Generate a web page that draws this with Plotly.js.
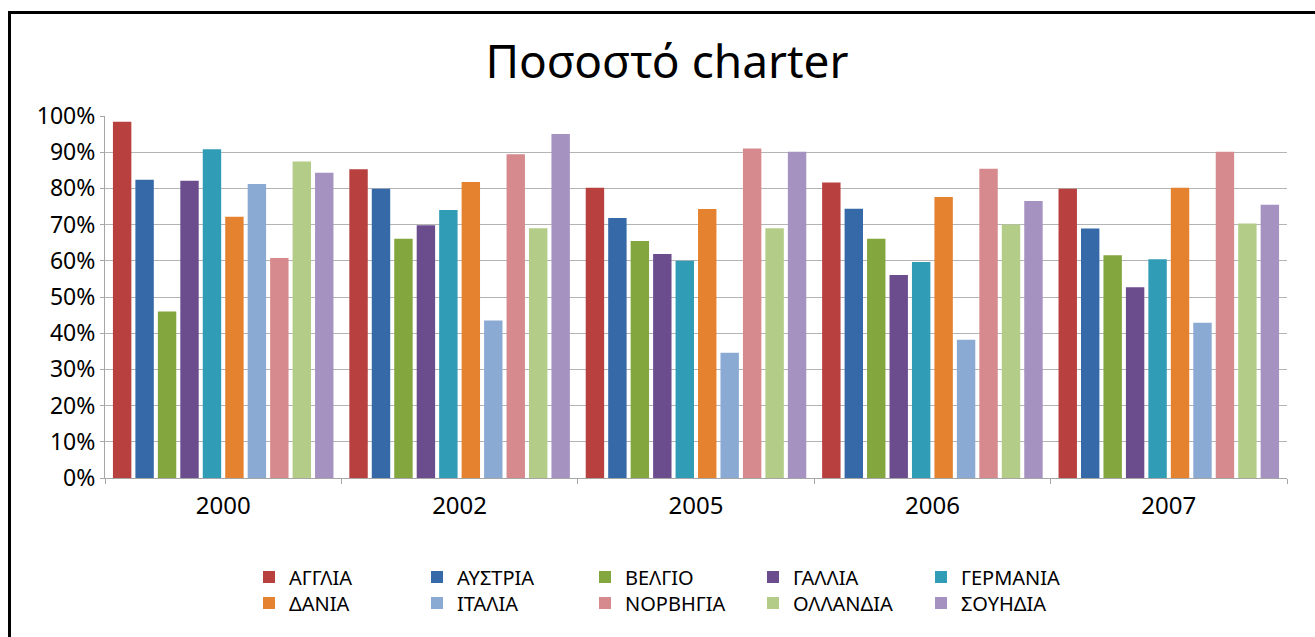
<!DOCTYPE html>
<html>
<head>
<meta charset="utf-8">
<script src="https://cdn.plot.ly/plotly-3.0.1.min.js"></script>
<style>
  html, body { margin: 0; padding: 0; background: #fff; overflow: hidden; }
  #chart { position: absolute; left: 0; top: 0; width: 1315px; height: 637px; }
  #frame { position: absolute; left: 8px; top: 11px; width: 1400px; height: 700px;
           border-top: 3px solid #000; border-left: 3px solid #000; pointer-events: none; }
</style>
</head>
<body>
<div id="chart"></div>
<div id="frame"></div>
<script>
const years = ['2000', '2002', '2005', '2006', '2007'];

const countries = ['ΑΓΓΛΙΑ', 'ΑΥΣΤΡΙΑ', 'ΒΕΛΓΙΟ', 'ΓΑΛΛΙΑ', 'ΓΕΡΜΑΝΙΑ',
                   'ΔΑΝΙΑ', 'ΙΤΑΛΙΑ', 'ΝΟΡΒΗΓΙΑ', 'ΟΛΛΑΝΔΙΑ', 'ΣΟΥΗΔΙΑ'];

// Charter share per country, in year order 2000, 2002, 2005, 2006, 2007
const anglia     = [0.984, 0.853, 0.802, 0.816, 0.799];
const afstria    = [0.824, 0.799, 0.718, 0.744, 0.689];
const velgio     = [0.460, 0.661, 0.655, 0.661, 0.615];
const gallia     = [0.821, 0.698, 0.619, 0.561, 0.527];
const germania   = [0.908, 0.740, 0.600, 0.597, 0.604];
const dania      = [0.722, 0.818, 0.743, 0.776, 0.802];
const italia     = [0.812, 0.435, 0.346, 0.382, 0.429];
const norvigia   = [0.608, 0.894, 0.910, 0.854, 0.901];
const ollandia   = [0.874, 0.690, 0.690, 0.700, 0.703];
const souidia    = [0.843, 0.950, 0.901, 0.765, 0.755];

const series = [anglia, afstria, velgio, gallia, germania,
                dania, italia, norvigia, ollandia, souidia];

const colors = ['#B8403E', '#3569A8', '#83A63F', '#6B4D8E', '#319CB5',
                '#E5822F', '#8BAAD3', '#D68A8D', '#B3CC88', '#A592C0'];

const FONT = 'Noto Sans, Open Sans, DejaVu Sans, sans-serif';

const traces = series.map((vals, i) => ({
  type: 'bar',
  name: countries[i],
  x: years,
  y: vals,
  marker: { color: colors[i], line: { width: 0 } },
  legend: i < 5 ? 'legend' : 'legend2',
  hoverinfo: 'x+y+name'
}));

const legendCommon = {
  orientation: 'h',
  xref: 'container', yref: 'container',
  xanchor: 'left', yanchor: 'middle',
  font: { family: FONT, size: 20, color: '#000' },
  entrywidth: 123,
  entrywidthmode: 'pixels',
  bgcolor: 'rgba(0,0,0,0)',
  borderwidth: 0,
  traceorder: 'normal',
  itemclick: false, itemdoubleclick: false
};

const layout = {
  width: 1315, height: 637,
  paper_bgcolor: '#ffffff',
  plot_bgcolor: '#ffffff',
  margin: { l: 105, r: 28, t: 116, b: 159 },
  font: { family: FONT, color: '#000' },
  title: {
    text: 'Ποσοστό charter',
    font: { family: FONT, size: 46, color: '#000' },
    xref: 'container', yref: 'container',
    x: 0.5072, xanchor: 'center',
    y: 1 - 62 / 637, yanchor: 'middle'
  },
  barmode: 'group',
  bargap: 0.05,
  bargroupgap: 0.18,
  xaxis: {
    type: 'category',
    showgrid: false,
    showline: true, linecolor: '#a6a6a6', linewidth: 1,
    ticks: 'outside', tickson: 'boundaries', ticklen: 5, tickcolor: '#a6a6a6',
    tickfont: { family: FONT, size: 24, color: '#000' },
    ticklabelstandoff: 6
  },
  yaxis: {
    range: [0, 1],
    dtick: 0.1,
    tickformat: '.0%',
    showgrid: true, gridcolor: '#b4b4b4', gridwidth: 1,
    showline: true, linecolor: '#a6a6a6', linewidth: 1,
    ticks: 'outside', ticklen: 4, tickcolor: '#a6a6a6',
    tickfont: { family: FONT, size: 23, color: '#000' },
    zeroline: false
  },
  legend: Object.assign({}, legendCommon, { x: 249 / 1315, y: 1 - 577 / 637 }),
  legend2: Object.assign({}, legendCommon, { x: 249 / 1315, y: 1 - 603 / 637 }),
  showlegend: true
};

Plotly.newPlot('chart', traces, layout, { displayModeBar: false, staticPlot: true });
</script>
</body>
</html>
